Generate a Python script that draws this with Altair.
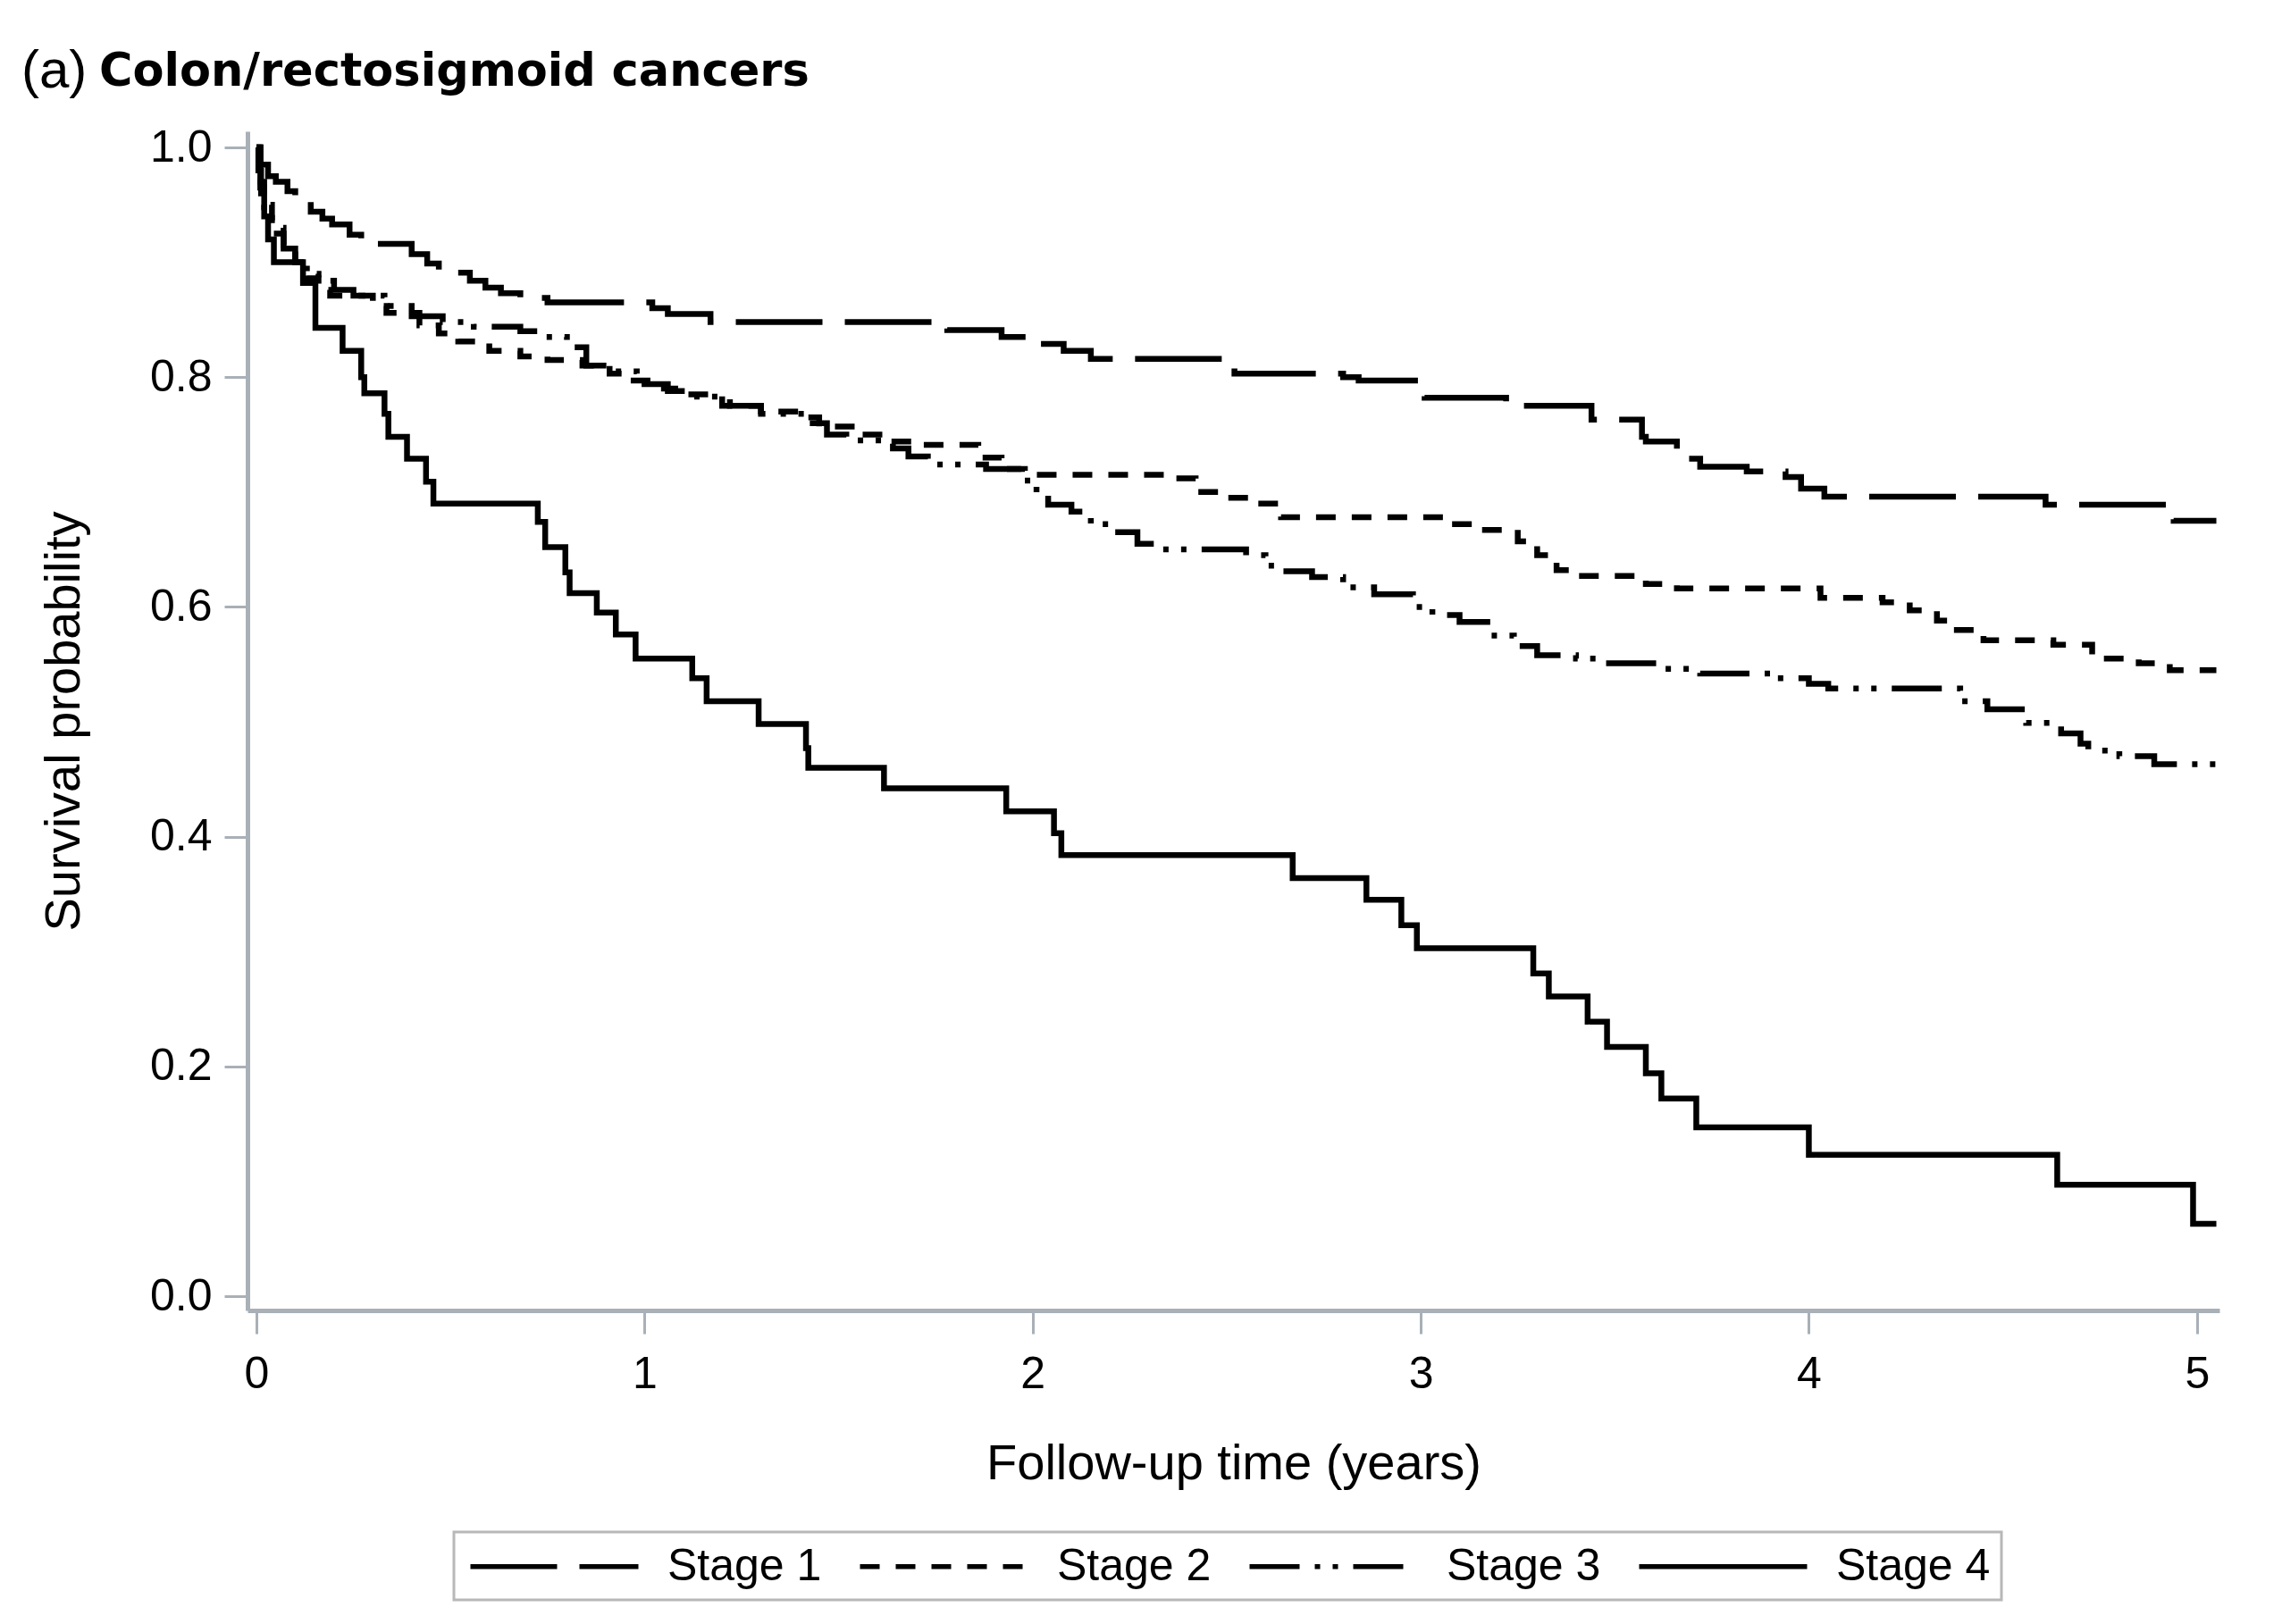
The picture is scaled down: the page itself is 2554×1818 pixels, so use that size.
import altair as alt
import pandas as pd

# ---- data (Kaplan-Meier step curves) ----
stages = ["Stage 1", "Stage 2", "Stage 3", "Stage 4"]

s1_t = [0, 0.01, 0.03, 0.05, 0.08, 0.10, 0.14, 0.17, 0.195, 0.24, 0.27, 0.40, 0.44, 0.47,
        0.55, 0.59, 0.63, 0.68, 0.75, 1.02, 1.06, 1.17, 1.78, 1.92, 2.01, 2.08, 2.15, 2.52,
        2.80, 2.84, 3.01, 3.22, 3.44, 3.57, 3.58, 3.66, 3.72, 3.84, 3.94, 3.98, 4.04, 4.61,
        4.94, 5.05]
s1_s = [1.0, 0.985, 0.975, 0.97, 0.962, 0.956, 0.944, 0.938, 0.933, 0.924, 0.916, 0.907, 0.899,
        0.891, 0.884, 0.878, 0.873, 0.869, 0.865, 0.86, 0.855, 0.848, 0.841, 0.835, 0.829, 0.823,
        0.816, 0.803, 0.80, 0.797, 0.782, 0.775, 0.763, 0.748, 0.744, 0.729, 0.722, 0.718, 0.713,
        0.703, 0.696, 0.689, 0.675, 0.675]

s2_t = [0, 0.01, 0.02, 0.04, 0.07, 0.10, 0.13, 0.16, 0.19, 0.30, 0.335, 0.42, 0.47, 0.52, 0.60,
        0.68, 0.75, 0.84, 0.91, 0.96, 1.05, 1.10, 1.20, 1.30, 1.40, 1.45, 1.55, 1.62, 1.70, 1.86,
        1.92, 1.98, 2.35, 2.42, 2.50, 2.56, 2.64, 3.07, 3.14, 3.25, 3.30, 3.35, 3.40, 3.58, 3.66,
        4.03, 4.19, 4.26, 4.33, 4.37, 4.45, 4.63, 4.73, 4.85, 4.93, 5.05]
s2_s = [1.0, 0.97, 0.95, 0.93, 0.915, 0.90, 0.886, 0.876, 0.871, 0.862, 0.856, 0.845, 0.838, 0.831,
        0.823, 0.818, 0.815, 0.81, 0.803, 0.797, 0.79, 0.785, 0.775, 0.77, 0.765, 0.757, 0.75,
        0.744, 0.741, 0.73, 0.72, 0.715, 0.712, 0.70, 0.695, 0.69, 0.678, 0.672, 0.667, 0.657,
        0.645, 0.632, 0.627, 0.62, 0.616, 0.608, 0.604, 0.597, 0.588, 0.58, 0.571, 0.567, 0.555,
        0.551, 0.545, 0.545]

s3_t = [0, 0.01, 0.02, 0.04, 0.07, 0.10, 0.13, 0.16, 0.20, 0.25, 0.33, 0.40, 0.48, 0.56, 0.68,
        0.74, 0.80, 0.85, 0.92, 0.98, 1.06, 1.12, 1.22, 1.30, 1.42, 1.47, 1.52, 1.64, 1.68, 1.73,
        1.88, 1.98, 2.01, 2.04, 2.10, 2.15, 2.20, 2.27, 2.33, 2.55, 2.60, 2.64, 2.72, 2.80, 2.88,
        2.98, 3.03, 3.10, 3.18, 3.24, 3.30, 3.40, 3.46, 3.62, 3.72, 3.92, 4.00, 4.05, 4.39, 4.46,
        4.56, 4.65, 4.70, 4.72, 4.80, 4.89, 5.05]
s3_s = [1.0, 0.965, 0.945, 0.925, 0.912, 0.898, 0.89, 0.884, 0.876, 0.871, 0.862, 0.853, 0.848,
        0.844, 0.84, 0.835, 0.826, 0.81, 0.805, 0.794, 0.788, 0.783, 0.775, 0.768, 0.76, 0.75,
        0.745, 0.738, 0.731, 0.724, 0.72, 0.71, 0.698, 0.689, 0.683, 0.672, 0.665, 0.655, 0.65,
        0.645, 0.636, 0.631, 0.626, 0.617, 0.611, 0.60, 0.593, 0.587, 0.575, 0.566, 0.558, 0.555,
        0.551, 0.546, 0.542, 0.538, 0.533, 0.529, 0.518, 0.511, 0.499, 0.49, 0.481, 0.475, 0.47,
        0.463, 0.463]

s4_t = [0, 0.005, 0.012, 0.02, 0.03, 0.045, 0.12, 0.152, 0.222, 0.270, 0.278, 0.330, 0.340,
        0.388, 0.437, 0.456, 0.725, 0.744, 0.796, 0.807, 0.877, 0.926, 0.977, 1.123, 1.160,
        1.294, 1.416, 1.422, 1.617, 1.932, 2.055, 2.074, 2.67, 2.86, 2.95, 2.99, 3.29, 3.33,
        3.43, 3.48, 3.58, 3.62, 3.71, 4.00, 4.64, 4.99, 5.05]
s4_s = [1.0, 0.98, 0.96, 0.94, 0.92, 0.90, 0.882, 0.843, 0.823, 0.80, 0.786, 0.768, 0.748,
        0.729, 0.709, 0.69, 0.674, 0.652, 0.63, 0.612, 0.595, 0.576, 0.555, 0.538, 0.518, 0.498,
        0.477, 0.46, 0.442, 0.422, 0.403, 0.384, 0.364, 0.345, 0.323, 0.303, 0.281, 0.261, 0.239,
        0.217, 0.194, 0.172, 0.147, 0.123, 0.097, 0.063, 0.063]

x_ticks = [0, 1, 2, 3, 4, 5]
y_ticks = [0.0, 0.2, 0.4, 0.6, 0.8, 1.0]

frames = []
for name, ts, ss in zip(stages, [s1_t, s2_t, s3_t, s4_t], [s1_s, s2_s, s3_s, s4_s]):
    frames.append(pd.DataFrame({"time": ts, "surv": ss, "stage": name}))
df = pd.concat(frames, ignore_index=True)

AXIS_GRAY = "#a9b0b7"
FONT = "Liberation Sans"

lines = alt.Chart(df).mark_line(interpolate="step-after", strokeWidth=6.5, color="black").encode(
    x=alt.X("time:Q",
            scale=alt.Scale(domain=[-0.023, 5.058], nice=False, zero=False),
            axis=alt.Axis(values=x_ticks, format="d", title="Follow-up time (years)",
                          titleY=188, titleBaseline="alphabetic", labelPadding=20)),
    y=alt.Y("surv:Q",
            scale=alt.Scale(domain=[-0.0124, 1.014], nice=False, zero=False),
            axis=alt.Axis(values=y_ticks, format=".1f", title="Survival probability",
                          titleX=-189, titleY=660, titleBaseline="alphabetic", labelPadding=14)),
    strokeDash=alt.StrokeDash(
        "stage:N",
        scale=alt.Scale(domain=stages,
                        range=[[97, 25], [22, 18], [56, 17, 6, 14, 6, 17], [1, 0]]),
        legend=alt.Legend(title=None, orient="none", legendX=231, legendY=1568,
                          direction="horizontal", symbolType="M-4,0H4", symbolSize=2209,
                          symbolOffset=74,
                          symbolStrokeWidth=5.5, symbolStrokeColor="black",
                          labelFont=FONT, labelFontSize=50, labelColor="black",
                          labelLimit=500,
                          labelOffset=100, columnPadding=31, padding=12,
                          strokeColor="#b8b8b8", fillColor="white"),
    ),
    detail="stage:N",
)

one = pd.DataFrame({"k": [0]})
title_a = alt.Chart(one).mark_text(font=FONT, fontSize=60, align="left", baseline="alphabetic",
                                   color="black").encode(
    x=alt.value(-253), y=alt.value(-49), text=alt.value("(a)"))
title_b = alt.Chart(one).mark_text(font="DejaVu Sans", fontSize=51, fontWeight="bold",
                                   align="left", baseline="alphabetic", color="black").encode(
    x=alt.value(-166), y=alt.value(-51), text=alt.value("Colon/rectosigmoid cancers"))

chart = alt.layer(lines, title_a, title_b).properties(
    width=2207, height=1320,
    autosize=alt.AutoSizeParams(type="none"),
    padding={"left": 269, "top": 139, "right": 62, "bottom": 343},
).configure_view(stroke=None).configure_axis(
    grid=False, domainColor=AXIS_GRAY, domainWidth=5, tickColor=AXIS_GRAY, tickWidth=3,
    tickSize=26, labelFont=FONT, labelFontSize=50, labelColor="black",
    titleFont=FONT, titleFontSize=56, titleFontWeight="normal", titleColor="black",
).configure_legend(strokeWidth=3)

chart.save("out.html", embed_options={"renderer": "svg", "actions": False})
